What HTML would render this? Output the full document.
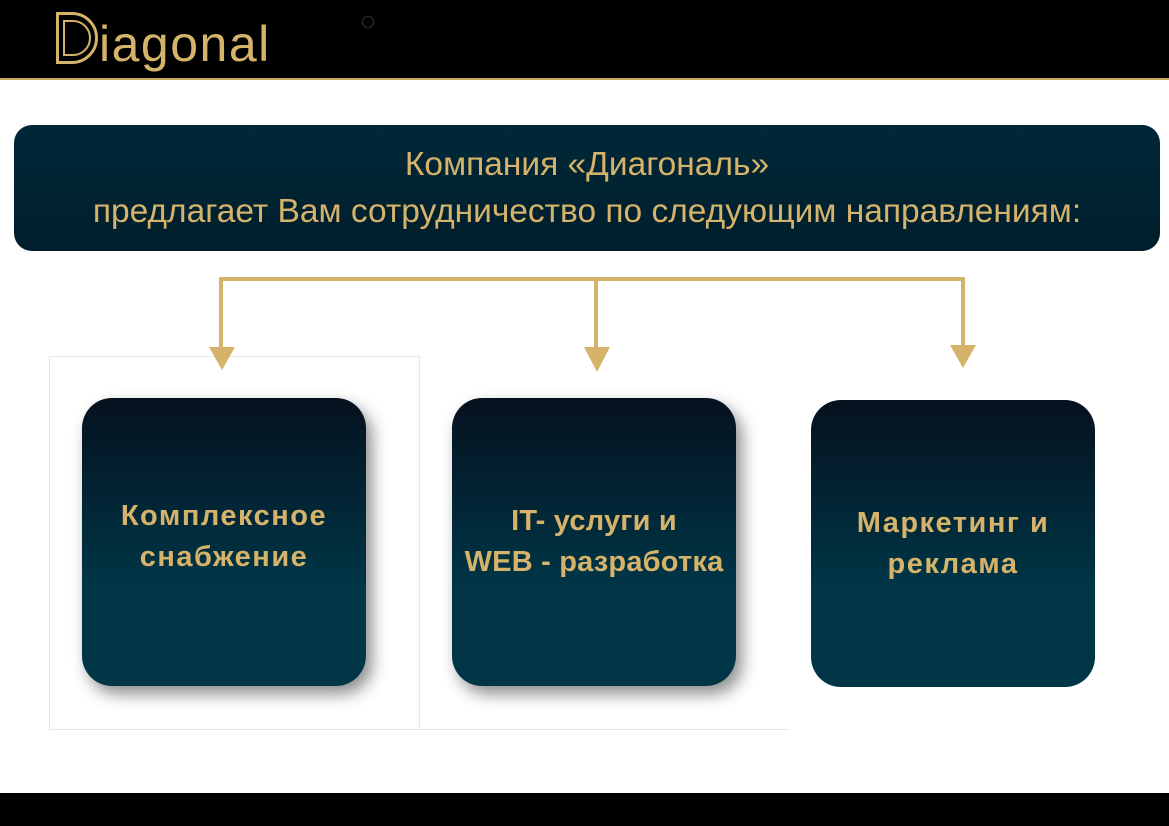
<!DOCTYPE html>
<html><head><meta charset="utf-8"><style>
body{margin:0;width:1169px;height:826px;position:relative;background:#fff;overflow:hidden;font-family:"Liberation Sans","DejaVu Sans",sans-serif}
.abs{position:absolute}
.hdr{left:0;top:0;width:1169px;height:78px;background:#000;border-bottom:2px solid #c9a962}
.ftr{left:0;top:793px;width:1169px;height:33px;background:#000}
.logo{left:99px;top:14px;font-size:50px;color:#d6b36a;font-weight:300;letter-spacing:1.5px;line-height:60px}
.top{left:14px;top:125px;width:1146px;height:126px;border-radius:18px;background:linear-gradient(#012838,#001e2c);color:#d6b36a;font-size:33.5px;text-align:center;line-height:47px;padding-top:16px;box-sizing:border-box}
.box{width:284px;height:288px;border-radius:30px;background:linear-gradient(#06111f 0%,#012a3a 45%,#003646 65%,#003646 100%);color:#d6b36a;font-weight:bold;font-size:29px;letter-spacing:1.5px;text-align:center;display:flex;align-items:center;justify-content:center;line-height:41px;padding-bottom:10px;box-sizing:border-box}
.sh{box-shadow:6px 8px 16px rgba(0,0,0,.45)}
.g{background:#d6b36a}
</style></head><body>
<div class="abs hdr"></div>
<div class="abs" style="left:56px;top:12px;width:42px;height:52px;border:3px solid #d6b36a;border-radius:0 26px 26px 0;box-sizing:border-box"></div>
<div class="abs" style="left:63px;top:20px;width:28px;height:36px;border:2px solid #d6b36a;border-radius:0 18px 18px 0;box-sizing:border-box"></div>
<div class="abs logo">iagonal</div>
<div class="abs" style="left:362px;top:16px;width:10px;height:10px;border:1px solid #333;border-radius:50%"></div>
<div class="abs top">Компания «Диагональ»<br>предлагает Вам сотрудничество по следующим направлениям:</div>
<svg class="abs" style="left:0;top:0" width="1169" height="826">
<rect x="49.5" y="356.5" width="370" height="373" fill="none" stroke="#e6e6e6"/><line x1="420" y1="729.5" x2="789" y2="729.5" stroke="#e6e6e6"/>
<g fill="#d6b36a"><rect x="219" y="277" width="746" height="4"/><rect x="219" y="277" width="4" height="72"/><rect x="594" y="277" width="4" height="72"/><rect x="961" y="277" width="4" height="70"/>
<polygon points="209,347 235,347 222,370"/><polygon points="584,347 610,347 597,372"/><polygon points="950,345 976,345 963,368"/></g></svg>
<div class="abs box sh" style="left:82px;top:398px">Комплексное<br>снабжение</div>
<div class="abs box sh" style="left:452px;top:398px;letter-spacing:0.2px;padding-bottom:0">IT- услуги и<br>WEB - разработка</div>
<div class="abs box" style="left:811px;top:400px;height:287px;padding-bottom:0">Маркетинг и<br>реклама</div>
<div class="abs ftr"></div>
</body></html>
